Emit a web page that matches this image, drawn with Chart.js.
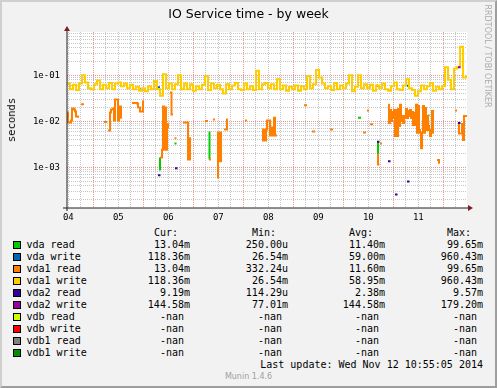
<!DOCTYPE html>
<html lang="en">
<head>
<meta charset="UTF-8">
<title>IO Service time - by week</title>
<script src="https://cdn.jsdelivr.net/npm/chart.js@4.4.0/dist/chart.umd.min.js"></script>
<style>
    body { margin: 0; background: #f2f2f2; }
    #graph { position: relative; width: 497px; height: 388px; background: #f2f2f2; overflow: hidden;
             font-family: "DejaVu Sans Mono", monospace; font-size: 10px; color: #000; }
    #chart { position: absolute; left: 0; top: 0; }
    #frame { position: absolute; left: 0; top: 0; width: 497px; height: 388px; box-sizing: border-box;
             border: 2px solid; border-color: #cfcfcf #9e9e9e #9e9e9e #cfcfcf; pointer-events: none; }
    .txt { position: absolute; white-space: pre; line-height: 12px; }
    .box { position: absolute; width: 6px; height: 6px; border: 1px solid #000; }
    #title { position: absolute; left: 0; top: 6px; width: 497px; text-align: center;
             font-family: "DejaVu Sans", sans-serif; font-size: 12.5px; line-height: 15px; }
    #unit { position: absolute; left: 11px; top: 120px; transform: translate(-50%, -50%) rotate(-90deg);
            font-size: 10.5px; white-space: nowrap; }
    #mark { position: absolute; left: 487px; top: 56px; transform: translate(-50%, -50%) rotate(90deg);
            font-family: "DejaVu Sans", sans-serif; font-size: 8px; color: #ababab; white-space: nowrap; }
    #munin { position: absolute; left: 0; top: 372px; width: 497px; text-align: center;
             font-family: "DejaVu Sans", sans-serif; font-size: 8px; line-height: 10px; color: #a0a0a0; }
</style>
</head>
<body>
<div id="graph">
    <canvas id="chart" width="497" height="225"></canvas>
    <div id="title">IO Service time - by week</div>
    <div id="unit">seconds</div>
    <div id="mark">RRDTOOL / TOBI OETIKER</div>
    <div id="legend"></div>
    <div class="txt" style="right:14px;top:358.5px">Last update: Wed Nov 12 10:55:05 2014</div>
    <div id="munin">Munin 1.4.6</div>
    <div id="frame"></div>
</div>

<script>
// axes (x in days of November 2014, y in seconds)
const xMin = 4.474, xMax = 12.474;
const yMin = 1.3e-4, yMax = 0.874;
const dayLabels = ['04', '05', '06', '07', '08', '09', '10', '11'];
const dayLabelAt = [4.5, 5.5, 6.5, 7.5, 8.5, 9.5, 10.5, 11.5];
const yTickValues = [0.001, 0.01, 0.1];
const yTickLabels = ['1e-03', '1e-02', '1e-01'];

// legend
const seriesNames = ['vda read', 'vda write', 'vda1 read', 'vda1 write', 'vda2 read',
                     'vda2 write', 'vdb read', 'vdb write', 'vdb1 read', 'vdb1 write'];
const seriesColors = ['#00cc00', '#0066b3', '#ff8000', '#ffcc00', '#330099',
                      '#990099', '#ccff00', '#ff0000', '#808080', '#008f00'];
const curText = ['13.04m', '118.36m', '13.04m', '118.36m', '9.19m', '144.58m', '-nan ', '-nan ', '-nan ', '-nan '];
const minText = ['250.00u', '26.54m', '332.24u', '26.54m', '114.29u', '77.01m', '-nan ', '-nan ', '-nan ', '-nan '];
const avgText = ['11.40m', '59.00m', '11.60m', '58.95m', '2.38m', '144.58m', '-nan ', '-nan ', '-nan ', '-nan '];
const maxText = ['99.65m', '960.43m', '99.65m', '960.43m', '9.57m', '179.20m', '-nan ', '-nan ', '-nan ', '-nan '];

// vda1 write: one sample every 0.06 day
const vda1WriteStart = 4.474, vda1WriteStep = 0.06;
const vda1Write = [
    0.066, 0.050, 0.062, 0.048, 0.066, 0.100, 0.070, 0.052, 0.050, 0.064,
    0.077, 0.050, 0.062, 0.052, 0.068, 0.050, 0.066, 0.070, 0.058, 0.066,
    0.052, 0.062, 0.050, 0.056, 0.046, 0.052, 0.045, 0.058, 0.050, 0.075,
    0.050, 0.036, 0.105, 0.052, 0.066, 0.050, 0.064, 0.100, 0.050, 0.066,
    0.050, 0.064, 0.046, 0.058, 0.050, 0.062, 0.095, 0.048, 0.066, 0.052,
    0.062, 0.050, 0.040, 0.064, 0.050, 0.060, 0.068, 0.050, 0.048, 0.066,
    0.050, 0.058, 0.048, 0.125, 0.050, 0.064, 0.068, 0.052, 0.064, 0.050,
    0.082, 0.050, 0.060, 0.046, 0.056, 0.050, 0.060, 0.046, 0.058, 0.050,
    0.097, 0.052, 0.064, 0.130, 0.090, 0.066, 0.052, 0.058, 0.048, 0.068,
    0.050, 0.060, 0.052, 0.066, 0.100, 0.045, 0.056, 0.100, 0.052, 0.064,
    0.052, 0.062, 0.046, 0.060, 0.052, 0.066, 0.050, 0.046, 0.058, 0.070,
    0.050, 0.048, 0.060, 0.082, 0.052, 0.048, 0.036, 0.045, 0.060, 0.050,
    0.058, 0.068, 0.046, 0.056, 0.050, 0.058, 0.150, 0.080, 0.050, 0.140,
    0.150, 0.420, 0.090, 0.100
];

// vda1 read (null = no data)
const vda1ReadTime = [
    4.474, 4.494, 4.534, 4.554, 4.574, 4.614, 4.634, 4.654, 4.694, 4.70,
    4.754, 4.814, 4.82,
    5.214, 5.274, 5.28,
    5.294, 5.334, 5.354, 5.394, 5.414, 5.434, 5.474, 5.494, 5.514, 5.554, 5.574, 5.58,
    5.774, 5.874, 5.894, 5.934, 5.974, 5.994, 6.014, 6.02,
    6.334, 6.374, 6.394, 6.414, 6.434, 6.454, 6.474, 6.494, 6.514, 6.52,
    6.534, 6.564, 6.594, 6.60,
    6.624, 6.664, 6.67,
    6.794, 6.894, 6.934, 6.954, 6.96,
    7.234, 7.294, 7.30,
    7.314, 7.354, 7.36,
    7.394, 7.434, 7.44,
    7.474, 7.494, 7.514, 7.534, 7.554, 7.574, 7.58,
    7.614, 7.674, 7.694, 7.70,
    8.034, 8.074, 8.08,
    8.374, 8.394, 8.434, 8.454, 8.474, 8.534, 8.554, 8.594, 8.614, 8.634, 8.674, 8.68,
    9.214, 9.274, 9.28,
    9.374, 9.434, 9.44,
    9.734, 9.794, 9.80,
    10.394, 10.454, 10.46,
    10.474, 10.514, 10.52,
    10.534, 10.594, 10.60,
    10.684, 10.694, 10.724, 10.73,
    10.734, 10.774, 10.78,
    10.894, 10.914, 10.934, 10.954, 10.974, 10.994, 11.014, 11.034, 11.054, 11.074,
    11.094, 11.114, 11.134, 11.154, 11.174, 11.194, 11.214, 11.234, 11.254, 11.274,
    11.294, 11.314, 11.334, 11.354, 11.374, 11.394, 11.414, 11.434, 11.454, 11.474,
    11.494, 11.514, 11.534, 11.554, 11.574, 11.594, 11.614, 11.634, 11.654, 11.674,
    11.694, 11.714, 11.734, 11.754, 11.774, 11.794, 11.814, 11.82,
    11.874, 11.914, 11.934, 11.94,
    12.234, 12.274, 12.28,
    12.294, 12.314, 12.374, 12.394, 12.414, 12.454, 12.474
];
const vda1ReadVal = [
    0.0155, 0.0094, 0.0094, 0.0104, 0.0189, 0.018, 0.0163, 0.0127, 0.012, null,
    0.0234, 0.0234, null,
    0.0097, 0.0097, null,
    0.0063, 0.0155, 0.018, 0.0189, 0.0104, 0.0297, 0.0297, 0.0104, 0.021, 0.012, 0.012, null,
    0.025, 0.0243, 0.0199, 0.0163, 0.0163, 0.0268, 0.0268, null,
    0.00163, 0.0024, 0.021, 0.0024, 0.0199, 0.0024, 0.0086, 0.0073, 0.0073, null,
    0.042, 0.014, 0.014, null,
    0.0043, 0.0043, null,
    0.0094, 0.00147, 0.0043, 0.0043, null,
    0.0101, 0.0101, null,
    0.00147, 0.00147, null,
    0.0109, 0.0109, null,
    0.0006, 0.0057, 0.00135, 0.0057, 0.00135, 0.00135, null,
    0.0066, 0.0109, 0.0109, null,
    0.0104, 0.0104, null,
    0.0038, 0.0066, 0.0038, 0.0066, 0.0104, 0.0049, 0.0073, 0.0049, 0.012, 0.0049, 0.0049, null,
    0.0223, 0.0223, null,
    0.006, 0.006, null,
    0.0066, 0.0066, null,
    0.0057, 0.0057, null,
    0.0171, 0.0171, null,
    0.0086, 0.0086, null,
    0.0019, 0.00115, 0.00115, null,
    0.0033, 0.0033, null,
    0.0229, 0.0092, 0.0176, 0.0101, 0.016, 0.0118, 0.0176, 0.0048, 0.0176, 0.0048,
    0.0185, 0.0079, 0.0229, 0.0101, 0.013, 0.0092, 0.013, 0.0118, 0.0185, 0.0118,
    0.0168, 0.013, 0.0176, 0.0118, 0.016, 0.0083, 0.0152, 0.0083, 0.0229, 0.0056,
    0.0216, 0.0065, 0.0056, 0.0026, 0.0056, 0.0216, 0.0056, 0.0195, 0.0065, 0.013,
    0.0079, 0.0065, 0.0048, 0.0065, 0.0168, 0.0056, 0.0056, null,
    0.00144, 0.00125, 0.00125, null,
    0.0171, 0.0171, null,
    0.0087, 0.0054, 0.0087, 0.0039, 0.013, 0.013, 0.013
];

// vda read (mostly hidden under vda1 read)
const vdaReadTime = [6.314, 6.334, 6.34, 6.624, 6.664, 6.67, 7.304, 7.324, 7.33,
                     10.294, 10.354, 10.36, 10.674, 10.694, 10.70, 10.924, 10.944, 10.95, 11.694, 11.724];
const vdaReadVal = [0.00089, 0.00163, null, 0.0033, 0.0033, null, 0.0057, 0.00147, null,
                    0.012, 0.012, null, 0.0034, 0.0019, null, 0.0171, 0.0133, null, 0.0133, 0.0133];

// vda write (mostly hidden under vda1 write)
const vdaWriteTime = [5.894, 5.944, 5.95, 6.274, 6.334, 6.34, 10.654, 10.694, 10.70, 11.274, 11.314];
const vdaWriteVal = [0.051, 0.051, null, 0.055, 0.055, null, 0.0595, 0.0595, null, 0.0595, 0.0595];

// vda2 read / write
const vda2ReadTime = [6.294, 6.344, 6.35, 6.634, 6.684, 6.69, 10.674, 10.724, 10.73, 10.894, 10.944, 10.95,
                      11.034, 11.084, 11.09, 11.274, 11.324, 11.33, 12.294, 12.344];
const vda2ReadVal = [0.00067, 0.00067, null, 0.00095, 0.00095, null, 0.0036, 0.0036, null, 0.00135, 0.00135, null,
                     0.000255, 0.000255, null, 0.00049, 0.00049, null, 0.0092, 0.0092];
const vda2WriteTime = [12.294, 12.344];
const vda2WriteVal = [0.15, 0.15];

function points(times, vals) {
    return times.map((t, i) => ({ x: t, y: vals[i] }));
}
const vda1WriteTime = vda1Write.map((v, i) => vda1WriteStart + i * vda1WriteStep);

const seriesData = [
    points(vdaReadTime, vdaReadVal),
    points(vdaWriteTime, vdaWriteVal),
    points(vda1ReadTime, vda1ReadVal),
    points(vda1WriteTime, vda1Write),
    points(vda2ReadTime, vda2ReadVal),
    points(vda2WriteTime, vda2WriteVal)
];

// legend table
const legend = document.getElementById('legend');
function addText(text, style) {
    const d = document.createElement('div');
    d.className = 'txt';
    d.textContent = text;
    d.setAttribute('style', style);
    legend.appendChild(d);
}
addText('Cur:', 'left:154px;top:226.5px');
addText('Min:', 'left:252px;top:226.5px');
addText('Avg:', 'left:349px;top:226.5px');
addText('Max:', 'left:447px;top:226.5px');
const colRight = [190, 288, 385, 483];
seriesNames.forEach((name, i) => {
    const top = 239 + i * 12;
    const b = document.createElement('div');
    b.className = 'box';
    b.style.left = '13px';
    b.style.top = (top + 2) + 'px';
    b.style.background = seriesColors[i];
    legend.appendChild(b);
    addText(name, 'left:26.5px;top:' + top + 'px');
    [curText, minText, avgText, maxText].forEach((col, c) => {
        addText(col[i], 'right:' + (497 - colRight[c]) + 'px;top:' + top + 'px');
    });
});

const minorGrid = 'rgba(143, 143, 143, 0.5)';
const majorGrid = 'rgba(222, 79, 79, 0.6)';

const axesPlugin = {
    id: 'axes',
    beforeDraw(chart) {
        const a = chart.chartArea, c = chart.ctx;
        c.save();
        c.fillStyle = '#ffffff';
        c.fillRect(a.left, a.top, a.right - a.left, a.bottom - a.top);
        c.restore();
    },
    afterDraw(chart) {
        const a = chart.chartArea, c = chart.ctx;
        c.save();
        c.strokeStyle = '#1f1f1f';
        c.lineWidth = 1;
        c.beginPath();
        c.moveTo(a.left, a.top - 2);
        c.lineTo(a.left, a.bottom + 3);
        c.moveTo(a.left - 4, a.bottom);
        c.lineTo(a.right + 2, a.bottom);
        c.stroke();
        c.fillStyle = '#801f1f';
        c.beginPath();
        c.moveTo(a.left - 3, a.top - 1);
        c.lineTo(a.left + 3, a.top - 1);
        c.lineTo(a.left, a.top - 6);
        c.closePath();
        c.fill();
        c.beginPath();
        c.moveTo(a.right + 1, a.bottom - 3);
        c.lineTo(a.right + 1, a.bottom + 3);
        c.lineTo(a.right + 6, a.bottom);
        c.closePath();
        c.fill();
        c.restore();
    }
};

new Chart(document.getElementById('chart').getContext('2d'), {
    type: 'line',
    data: {
        datasets: seriesData.map((d, i) => ({
            label: seriesNames[i],
            data: d,
            borderColor: seriesColors[i],
            backgroundColor: seriesColors[i],
            order: 10 - i
        }))
    },
    options: {
        responsive: false,
        animation: false,
        devicePixelRatio: 1,
        layout: { padding: { left: 0, right: 30, top: 32, bottom: 0 } },
        plugins: { legend: { display: false }, tooltip: { enabled: false } },
        elements: {
            point: { radius: 0, hoverRadius: 0 },
            line: { borderWidth: 2, tension: 0, stepped: 'before', borderCapStyle: 'butt', spanGaps: false }
        },
        scales: {
            x: {
                type: 'linear',
                min: xMin,
                max: xMax,
                afterBuildTicks: scale => {
                    const ticks = [];
                    for (let v = Math.ceil(xMin * 4) / 4; v <= xMax; v += 0.25) ticks.push({ value: v });
                    scale.ticks = ticks;
                },
                afterFit: scale => { scale.height = 17; },
                grid: {
                    drawTicks: false,
                    color: c => (c.tick && Number.isInteger(c.tick.value)) ? majorGrid : minorGrid
                },
                border: { display: false, dash: [1, 1] },
                ticks: {
                    autoSkip: false,
                    maxRotation: 0,
                    padding: 4,
                    color: '#000',
                    font: { family: 'DejaVu Sans Mono', size: 9 },
                    callback: value => {
                        const k = dayLabelAt.indexOf(value);
                        return k >= 0 ? dayLabels[k] : '';
                    }
                }
            },
            y: {
                type: 'logarithmic',
                min: yMin,
                max: yMax,
                afterBuildTicks: scale => {
                    const ticks = [];
                    for (let e = -4; e <= 0; e++) {
                        for (let m = 1; m <= 9; m++) {
                            const v = m * Math.pow(10, e);
                            if (v >= yMin && v <= yMax) ticks.push({ value: v, major: m === 1 });
                        }
                    }
                    scale.ticks = ticks;
                },
                afterFit: scale => { scale.width = 67; },
                grid: {
                    drawTicks: false,
                    color: c => (c.tick && c.tick.major) ? majorGrid : minorGrid
                },
                border: { display: false, dash: [1, 1] },
                ticks: {
                    autoSkip: false,
                    padding: 7,
                    color: '#000',
                    font: { family: 'DejaVu Sans Mono', size: 9 },
                    callback: value => {
                        const k = yTickValues.findIndex(t => Math.abs(Math.log10(t) - Math.log10(value)) < 1e-6);
                        return k >= 0 ? yTickLabels[k] : '';
                    }
                }
            }
        }
    },
    plugins: [axesPlugin]
});
</script>
</body>
</html>
